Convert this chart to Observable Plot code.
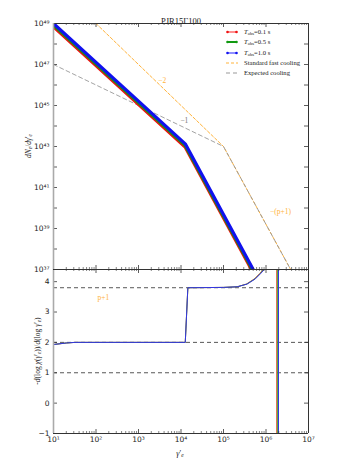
<!DOCTYPE html>
<html><head><meta charset="utf-8">
<script src="https://cdn.jsdelivr.net/npm/d3@7"></script>
<script src="https://cdn.jsdelivr.net/npm/@observablehq/plot@0.6"></script>
<style>
body{margin:0;background:#fff}
#fig{position:relative;width:353px;height:471px;overflow:hidden;font-family:"Liberation Serif",serif;color:#222}
.abs{position:absolute;white-space:nowrap}
.leg{position:absolute;left:226px;height:8px;font-size:6.6px;line-height:8px;display:flex;align-items:center;white-space:nowrap}
.leg svg{margin-right:6px}
sub{font-size:70%;vertical-align:-0.25em;line-height:0}
svg{overflow:visible}
</style></head><body>
<div id="fig"></div>
<script>
// ---- data ----
const titleText = "PJR15Γ100";
const xTickValues = [1e1, 1e2, 1e3, 1e4, 1e5, 1e6, 1e7];
const yTickValuesTop = [1e37,1e38,1e39,1e40,1e41,1e42,1e43,1e44,1e45,1e46,1e47,1e48,1e49];
const yLabelExpTop = [37, 39, 41, 43, 45, 47, 49];
const yTickValuesBottom = [-1, 0, 1, 2, 3, 4];

// simulated spectra dN/dγ (three observation times)
const gammaSim = [10, 1.26e4, 5.0e5, 1.6e6];
const nRed   = [7.1e48, 9.6e42, 7.1e36, 8.0e34];
const nGreen = [8.4e48, 1.13e43, 8.4e36, 9.5e34];
const nBlue  = [1.0e49, 1.35e43, 1.0e37, 1.15e35];

// reference cooling lines
const gammaStd = [100, 1e5, 3.8e6];
const nStd = [1e49, 1e43, 1e37];
const gammaExp = [10, 1e5, 3.8e6];
const nExp = [1e47, 1e43, 1e37];

// local slope -d log χ / d log γ
const gammaSlopeRed   = [10, 20, 32, 12600, 14500, 1e5, 2.1e5, 3.45e5, 5.3e5, 7.0e5, 9.2e5, 1.28e6, 1.77e6, 1.77e6];
const gammaSlopeGreen = [10, 20, 32, 12600, 14500, 1e5, 2.1e5, 3.52e5, 5.45e5, 7.2e5, 9.5e5, 1.32e6, 1.87e6, 1.87e6];
const gammaSlopeBlue  = [10, 20, 32, 12600, 14500, 1e5, 2.1e5, 3.6e5, 5.6e5, 7.4e5, 9.8e5, 1.36e6, 1.97e6, 1.97e6];
const slopeRed   = [1.93, 1.98, 2.0, 2.0, 3.8, 3.81, 3.83, 3.92, 4.09, 4.26, 4.45, 5.2, 60, -60];
const slopeGreen = [1.93, 1.98, 2.0, 2.0, 3.8, 3.81, 3.83, 3.92, 4.09, 4.26, 4.45, 5.2, 60, -60];
const slopeBlue  = [1.93, 1.98, 2.0, 2.0, 3.8, 3.81, 3.83, 3.92, 4.09, 4.26, 4.45, 5.2, 60, -60];
const refLevels = [3.8, 2, 1];

// annotations
const annTop = [
  {g: 3.6e3, n: 1.6e46, t: "−2", c: "orange"},
  {g: 1.2e4, n: 1.9e44, t: "−1", c: "gray"},
  {g: 2.2e6, n: 6.8e39, t: "−(p+1)", c: "orange"}
];
const annBottom = [{g: 150, v: 3.47, t: "p+1"}];

const legendItems = [
  {label: "0.1 s", color: "#ee1111", light: "#ff9090", tobs: true},
  {label: "0.5 s", color: "#119911", light: "#119911", tobs: true},
  {label: "1.0 s", color: "#1111ee", light: "#9090ff", tobs: true},
  {label: "Standard fast cooling", color: "#ffb33a", dash: "3,2"},
  {label: "Expected cooling", color: "#999999", dash: "4,3"}
];

// ---- styling ----
const RED = "#ee1111", GREEN = "#119911", BLUE = "#1111ee", BLUE2 = "#3535e0";
const ORANGE = "#ffb33a", GRAY = "#999999", INK = "#333";
const W = 353, ML = 53, MR = 45;
const FW = W - ML - MR;
const sup = s => String(s).replace(/[-0-9]/g, c => ({"-":"⁻","0":"⁰","1":"¹","2":"²","3":"³","4":"⁴","5":"⁵","6":"⁶","7":"⁷","8":"⁸","9":"⁹"})[c]);
const xMinor = [];
for (const d of xTickValues.slice(0, -1)) for (let m = 2; m <= 9; m++) xMinor.push(d * m);

function xTicks(fh) {
  return [
    Plot.tickX(xTickValues, {x: d => d, insetTop: fh - 4, stroke: INK, strokeWidth: 0.8}),
    Plot.tickX(xTickValues, {x: d => d, insetBottom: fh - 4, stroke: INK, strokeWidth: 0.8}),
    Plot.tickX(xMinor, {x: d => d, insetTop: fh - 2, stroke: INK, strokeWidth: 0.6}),
    Plot.tickX(xMinor, {x: d => d, insetBottom: fh - 2, stroke: INK, strokeWidth: 0.6})
  ];
}
function yTicks(vals) {
  return [
    Plot.tickY(vals, {y: d => d, insetRight: FW - 4, stroke: INK, strokeWidth: 0.8}),
    Plot.tickY(vals, {y: d => d, insetLeft: FW - 4, stroke: INK, strokeWidth: 0.8})
  ];
}

// ---- top panel ----
const TOPH = 269, TOPMT = 23;
const topFH = TOPH - TOPMT;
const topPlot = Plot.plot({
  width: W, height: TOPH, marginLeft: ML, marginRight: MR, marginTop: TOPMT, marginBottom: 0,
  style: {background: "transparent", fontFamily: "DejaVu Sans", overflow: "visible"},
  x: {type: "log", domain: [10, 1e7], axis: null},
  y: {type: "log", domain: [1e37, 1e49], axis: null},
  marks: [
    Plot.line(gammaStd, {x: gammaStd, y: nStd, stroke: ORANGE, strokeWidth: 1, strokeDasharray: "3,2", clip: true}),
    Plot.line(gammaExp, {x: gammaExp, y: nExp, stroke: GRAY, strokeWidth: 0.9, strokeDasharray: "4,3", clip: true}),
    Plot.line(gammaSim, {x: gammaSim, y: nRed, stroke: RED, strokeWidth: 3.5, clip: true}),
    Plot.line(gammaSim, {x: gammaSim, y: nGreen, stroke: GREEN, strokeWidth: 3.2, clip: true}),
    Plot.line(gammaSim, {x: gammaSim, y: nBlue, stroke: BLUE, strokeWidth: 3.2, clip: true}),
    Plot.text(annTop, {x: "g", y: "n", text: "t", fill: d => d.c === "orange" ? ORANGE : "#777", fontSize: 7.5, fontFamily: "Liberation Serif"}),
    ...xTicks(topFH),
    ...yTicks(yTickValuesTop),
    Plot.ruleX([1e7], {stroke: INK, strokeWidth: 1}),
    Plot.ruleY([1e49], {stroke: INK, strokeWidth: 1}),
    Plot.ruleY([1e37], {stroke: INK, strokeWidth: 1}),
    Plot.ruleX([10], {stroke: "#aaa", strokeWidth: 1.6}),
    Plot.text(yLabelExpTop, {y: d => Math.pow(10, d), frameAnchor: "left", dx: -4, textAnchor: "end", text: d => "10" + sup(d), fontSize: 7.5, fill: "#222"}),
    Plot.text([titleText], {frameAnchor: "top", dy: -6, text: d => d, fontSize: 8.5, fontFamily: "Liberation Serif", fill: "#222"})
  ]
});

// ---- bottom panel ----
const BOTH = 202, BOTMB = 38;
const botFH = BOTH - BOTMB;
const botPlot = Plot.plot({
  width: W, height: BOTH, marginLeft: ML, marginRight: MR, marginTop: 0, marginBottom: BOTMB,
  style: {background: "transparent", fontFamily: "DejaVu Sans", overflow: "visible"},
  x: {type: "log", domain: [10, 1e7], axis: null},
  y: {domain: [-1, 4.4], axis: null},
  marks: [
    Plot.ruleY(refLevels, {stroke: "#444", strokeWidth: 0.9, strokeDasharray: "4,3"}),
    Plot.line(gammaSlopeRed, {x: gammaSlopeRed, y: slopeRed, stroke: "#e0603a", strokeWidth: 0.9, clip: true}),
    Plot.line(gammaSlopeGreen, {x: gammaSlopeGreen, y: slopeGreen, stroke: "#3a9a2a", strokeWidth: 0.9, clip: true}),
    Plot.line(gammaSlopeBlue, {x: gammaSlopeBlue, y: slopeBlue, stroke: BLUE2, strokeWidth: 1, clip: true}),
    Plot.text(annBottom, {x: "g", y: "v", text: "t", fill: ORANGE, fontSize: 7.5, fontFamily: "Liberation Serif"}),
    ...xTicks(botFH),
    ...yTicks(yTickValuesBottom),
    Plot.ruleX([1e7], {stroke: INK, strokeWidth: 1}),
    Plot.ruleY([4.4], {stroke: INK, strokeWidth: 1}),
    Plot.ruleY([-1], {stroke: INK, strokeWidth: 1}),
    Plot.ruleX([10], {stroke: "#aaa", strokeWidth: 1.6}),
    Plot.text(yTickValuesBottom, {y: d => d, frameAnchor: "left", dx: -4, textAnchor: "end", text: d => d < 0 ? "−" + (-d) : String(d), fontSize: 7.5, fill: "#222"}),
    Plot.text(xTickValues, {x: d => d, frameAnchor: "bottom", dy: 8, text: d => "10" + sup(Math.round(Math.log10(d))), fontSize: 7.5, fill: "#222"})
  ]
});

// ---- assemble ----
const fig = document.getElementById("fig");
const topDiv = document.createElement("div");
topDiv.className = "abs"; topDiv.style.left = "0px"; topDiv.style.top = "0px";
topDiv.appendChild(topPlot);
const botDiv = document.createElement("div");
botDiv.className = "abs"; botDiv.style.left = "0px"; botDiv.style.top = TOPH + "px";
botDiv.appendChild(botPlot);
fig.appendChild(botDiv);
fig.appendChild(topDiv);

// legend
const legY = [32, 42, 53, 63, 73];
legendItems.forEach((it, i) => {
  const row = document.createElement("div");
  row.className = "leg";
  row.style.top = (legY[i] - 4) + "px";
  let sw;
  if (it.dash) {
    sw = `<svg width="12" height="6"><line x1="0" y1="3" x2="12" y2="3" stroke="${it.color}" stroke-width="1" stroke-dasharray="${it.dash}"/></svg>`;
  } else {
    sw = `<svg width="12" height="6"><line x1="1" y1="3" x2="11" y2="3" stroke="${it.light}" stroke-width="2"/><circle cx="1.5" cy="3" r="1.3" fill="${it.color}"/><circle cx="10.5" cy="3" r="1.3" fill="${it.color}"/></svg>`;
  }
  const txt = it.tobs ? `<span><i>T</i><sub>obs</sub>=${it.label}</span>` : `<span>${it.label}</span>`;
  row.innerHTML = sw + txt;
  fig.appendChild(row);
});

// axis titles
function addLabel(html, x, y, rot, size) {
  const d = document.createElement("div");
  d.className = "abs";
  d.style.left = x + "px"; d.style.top = y + "px";
  d.style.fontSize = size + "px";
  d.style.transform = `translate(-50%,-50%)${rot ? " rotate(-90deg)" : ""}`;
  d.innerHTML = html;
  fig.appendChild(d);
}
addLabel("<i>dN</i><sub><i>e</i></sub>/<i>dγ</i>′<sub><i>e</i></sub>", 28, 146, true, 7.5);
addLabel("-<i>d</i>(log <i>χ</i>(<i>γ</i>′<sub><i>e</i></sub>))/<i>d</i>(log <i>γ</i>′<sub><i>e</i></sub>)", 37, 351, true, 7.5);
addLabel("<i>γ</i>′<sub><i>e</i></sub>", 180, 453, false, 8);
</script>
</body></html>
